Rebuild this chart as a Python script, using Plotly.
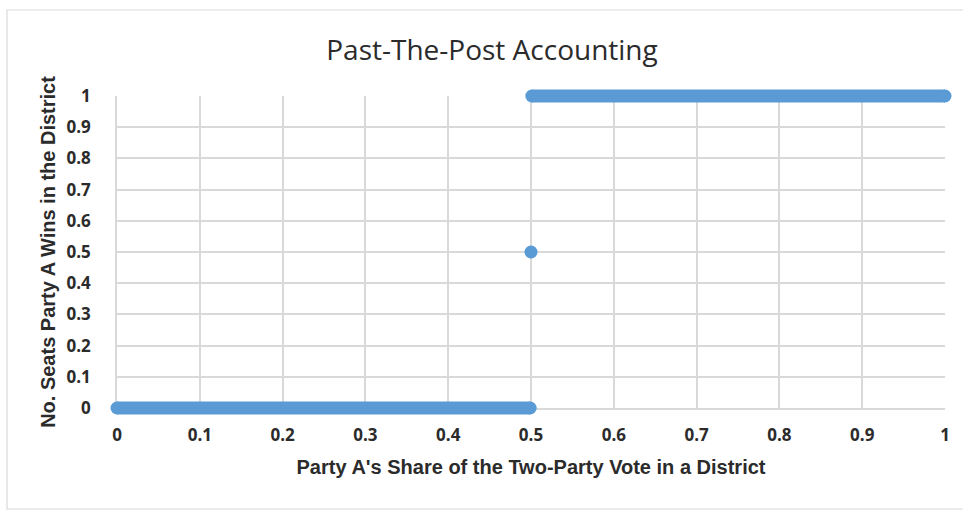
import plotly.graph_objects as go

# Data: District vote share vs seats won (first-past-the-post)
lose_x = [0, 0.499]
lose_y = [0, 0]
tie_x = [0.5]
tie_y = [0.5]
win_x = [0.501, 1]
win_y = [1, 1]
tick_vals = [0, 0.1, 0.2, 0.3, 0.4, 0.5, 0.6, 0.7, 0.8, 0.9, 1]
tick_text = ["0", "0.1", "0.2", "0.3", "0.4", "0.5", "0.6", "0.7", "0.8", "0.9", "1"]

BLUE = "#5B9BD5"
TXT = "#2b2b2b"
GRID = "#D9D9D9"
TITLE_FONT = "Open Sans"
LABEL_FONT = "Liberation Sans"
TICK_FONT = "Open Sans"

W, H = 963, 511
# grid plot area in pixels
GL, GR, GT, GB = 117, 945, 96, 408
PAD = 12  # extra room so thick lines are not clipped
L, R, T, B = GL - PAD, W - GR - PAD, GT - PAD, H - GB - PAD
pw = W - L - R
ph = H - T - B
ux = (GR - GL)  # pixels per unit x
uy = (GB - GT)  # pixels per unit y

fig = go.Figure()
# invisible trace so that the gridded axes are drawn
fig.add_trace(go.Scatter(x=tie_x, y=tie_y, mode="markers", xaxis="x", yaxis="y",
                         marker=dict(opacity=0), showlegend=False, hoverinfo="skip"))
for xs, ys in [(lose_x, lose_y), (tie_x, tie_y), (win_x, win_y)]:
    fig.add_trace(go.Scatter(
        x=xs, y=ys, mode="lines+markers", xaxis="x2", yaxis="y2",
        line=dict(color=BLUE, width=13),
        marker=dict(color=BLUE, size=13),
        cliponaxis=False, showlegend=False, hoverinfo="x+y",
    ))


def px2x(p):
    return (p - L) / pw


def py2y(p):
    return (H - B - p) / ph


fig.add_shape(type="rect", xref="paper", yref="paper",
              x0=px2x(7), x1=px2x(975), y0=py2y(509), y1=py2y(10),
              line=dict(color=GRID, width=1.2), layer="below")

grid_common = dict(
    range=[0, 1], tickvals=tick_vals, ticktext=tick_text,
    showgrid=True, gridcolor=GRID, gridwidth=1.5,
    showline=True, linecolor=GRID, linewidth=1.5,
    zeroline=False, ticks="", automargin=False,
    tickfont=dict(family=TICK_FONT, size=17, color=TXT, weight="bold"),
    fixedrange=True,
)
title_font = dict(family=LABEL_FONT, size=20, color=TXT, weight="bold")

fig.update_layout(
    width=W, height=H,
    margin=dict(l=L, r=R, t=T, b=B),
    paper_bgcolor="white", plot_bgcolor="rgba(0,0,0,0)",
    title=dict(text="Past-The-Post Accounting", x=492 / W, xanchor="center",
               y=1 - 50 / H, yanchor="middle",
               font=dict(family=TITLE_FONT, size=28, color=TXT)),
    xaxis=dict(**grid_common, domain=[PAD / pw, 1 - PAD / pw], anchor="y",
               ticklabelstandoff=11,
               title=dict(text="Party A's Share of the Two-Party Vote in a District",
                          font=title_font, standoff=15)),
    yaxis=dict(**grid_common, domain=[PAD / ph, 1 - PAD / ph], anchor="x",
               ticklabelstandoff=21,
               title=dict(text="No. Seats Party A Wins in the District",
                          font=title_font, standoff=6)),
    xaxis2=dict(range=[-PAD / ux, 1 + PAD / ux], domain=[0, 1], anchor="y2",
                visible=False, fixedrange=True, automargin=False),
    yaxis2=dict(range=[-PAD / uy, 1 + PAD / uy], domain=[0, 1], anchor="x2",
                visible=False, fixedrange=True, automargin=False),
)

fig.write_html("out.html", config={"displayModeBar": False},
               post_script="document.body.style.margin='0';")
